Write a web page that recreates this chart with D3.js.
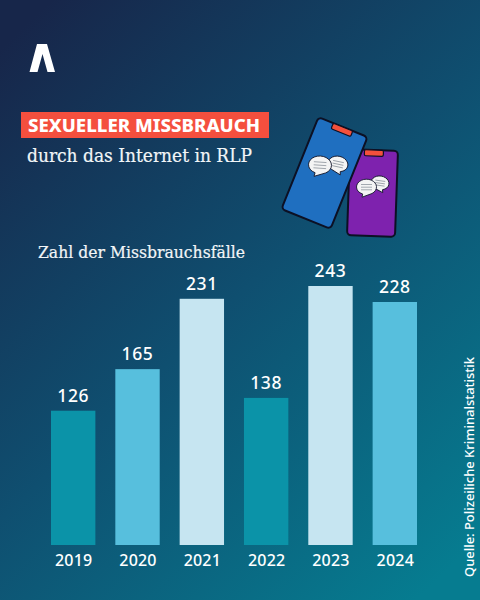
<!DOCTYPE html>
<html>
<head>
<meta charset="utf-8">
<script src="https://cdn.jsdelivr.net/npm/d3@7"></script>
<style>
  html, body { margin: 0; padding: 0; background: #123; }
  svg { display: block; }
</style>
</head>
<body>
<svg id="chart" width="480" height="600"></svg>
<script>
var years = ["2019", "2020", "2021", "2022", "2023", "2024"];
var cases = [126, 165, 231, 138, 243, 228];
var barColors = ["#0b93a8", "#57bfdd", "#c6e5f1", "#0b93a8", "#c6e5f1", "#57bfdd"];

var sansFont = "'Noto Sans', 'Open Sans', sans-serif";
var serifFont = "'DejaVu Serif', serif";

var svg = d3.select("#chart");
var defs = svg.append("defs");

// background
var bg = defs.append("linearGradient")
  .attr("id", "bg")
  .attr("gradientUnits", "userSpaceOnUse")
  .attr("x1", 20).attr("y1", 30)
  .attr("x2", 490).attr("y2", 530);
bg.append("stop").attr("offset", "0").attr("stop-color", "#17264a");
bg.append("stop").attr("offset", "0.5").attr("stop-color", "#0f4f70");
bg.append("stop").attr("offset", "1").attr("stop-color", "#067c90");
svg.append("rect").attr("width", 480).attr("height", 600).attr("fill", "url(#bg)");

// logo
svg.append("path")
  .attr("d", "M37,44 L47,44 L55,72 L47.5,72 L42.5,54 L37.5,72 L29.5,72 Z")
  .attr("fill", "#ffffff");

// title
svg.append("rect")
  .attr("x", 21).attr("y", 112)
  .attr("width", 248).attr("height", 26)
  .attr("fill", "#f44f3e");
svg.append("text")
  .attr("x", 28).attr("y", 131.5)
  .attr("font-family", sansFont).attr("font-weight", 800).attr("font-size", 17.5)
  .attr("fill", "#ffffff")
  .attr("textLength", 232).attr("lengthAdjust", "spacingAndGlyphs")
  .text("SEXUELLER MISSBRAUCH");
svg.append("text")
  .attr("x", 27).attr("y", 161.5)
  .attr("font-family", serifFont).attr("font-size", 18.5)
  .attr("fill", "#f2f6f8").attr("stroke", "#f2f6f8").attr("stroke-width", 0.2)
  .attr("textLength", 225).attr("lengthAdjust", "spacingAndGlyphs")
  .text("durch das Internet in RLP");

// phones
function speechBubble(cx, cy, r, angle, flip) {
  var b = svg.append("g")
    .attr("transform", "translate(" + cx + "," + cy + ") rotate(" + angle + ") scale(" + (flip ? -1 : 1) + ",1)");
  b.append("path")
    .attr("d", "M" + (-r) + ",0 A" + r + "," + (r * 0.78) + " 0 1 1 " + (r * 0.55) + "," + (r * 0.65) +
      " L" + (-r * 0.45) + "," + (r * 1.02) + " L" + (-r * 0.38) + "," + (r * 0.7) +
      " A" + r + "," + (r * 0.78) + " 0 0 1 " + (-r) + ",0 Z")
    .attr("fill", "#f4f4f4").attr("stroke", "#14182c").attr("stroke-width", 0.9);
  [-0.25, 0.02, 0.28].forEach(function(t) {
    b.append("line")
      .attr("x1", -r * 0.55).attr("x2", r * 0.55)
      .attr("y1", r * t).attr("y2", r * t)
      .attr("stroke", "#9aa0a8").attr("stroke-width", 0.9);
  });
}

function phone(cx, cy, w, h, angle, fill, notchW) {
  var g = svg.append("g").attr("transform", "translate(" + cx + "," + cy + ") rotate(" + angle + ")");
  g.append("rect")
    .attr("x", -w / 2).attr("y", -h / 2)
    .attr("width", w).attr("height", h).attr("rx", 4)
    .attr("fill", fill).attr("stroke", "#0c1024").attr("stroke-width", 2);
  g.append("rect")
    .attr("x", -notchW / 2).attr("y", -h / 2)
    .attr("width", notchW).attr("height", 6).attr("rx", 1.5)
    .attr("fill", "#f4503c").attr("stroke", "#0c1024").attr("stroke-width", 1.2);
}

phone(372.5, 193, 48, 86, 2, "#7e22ae", 19);
speechBubble(380, 183, 9, 8, true);
speechBubble(366.5, 187, 10, 0, false);

phone(324.5, 173, 53, 99, 22, "#1f6fc0", 21);
speechBubble(338, 164, 10, 12, true);
speechBubble(320, 165, 11.5, 4, false);

// chart
var x = d3.scaleBand().domain(years).range([51, 417]).paddingInner(0.31);
var y = d3.scaleLinear().domain([0, 243]).range([545, 286]);

svg.append("text")
  .attr("x", 38).attr("y", 257.5)
  .attr("font-family", serifFont).attr("font-size", 16)
  .attr("fill", "#f2f6f8").attr("stroke", "#f2f6f8").attr("stroke-width", 0.2)
  .attr("textLength", 207).attr("lengthAdjust", "spacingAndGlyphs")
  .text("Zahl der Missbrauchsfälle");

svg.selectAll("rect.bar")
  .data(cases)
  .join("rect")
  .attr("class", "bar")
  .attr("x", function(d, i) { return x(years[i]); })
  .attr("y", function(d) { return y(d); })
  .attr("width", x.bandwidth())
  .attr("height", function(d) { return y(0) - y(d); })
  .attr("fill", function(d, i) { return barColors[i]; });

svg.selectAll("text.value")
  .data(cases)
  .join("text")
  .attr("class", "value")
  .attr("x", function(d, i) { return x(years[i]) + x.bandwidth() / 2; })
  .attr("y", function(d) { return y(d) - 9; })
  .attr("text-anchor", "middle")
  .attr("font-family", sansFont).attr("font-weight", 500).attr("font-size", 17.5)
  .attr("letter-spacing", 0.6)
  .attr("fill", "#ffffff")
  .text(function(d) { return d; });

svg.selectAll("text.year")
  .data(years)
  .join("text")
  .attr("class", "year")
  .attr("x", function(d) { return x(d) + x.bandwidth() / 2 + 0.5; })
  .attr("y", 566)
  .attr("text-anchor", "middle")
  .attr("font-family", sansFont).attr("font-weight", 500).attr("font-size", 16)
  .attr("letter-spacing", 0.2)
  .attr("fill", "#ffffff")
  .text(function(d) { return d; });

// source
svg.append("text")
  .attr("transform", "translate(474,577) rotate(-90)")
  .attr("font-family", sansFont).attr("font-weight", 500).attr("font-size", 12.5)
  .attr("fill", "#ffffff")
  .attr("textLength", 220).attr("lengthAdjust", "spacingAndGlyphs")
  .text("Quelle: Polizeiliche Kriminalstatistik");
</script>
</body>
</html>
